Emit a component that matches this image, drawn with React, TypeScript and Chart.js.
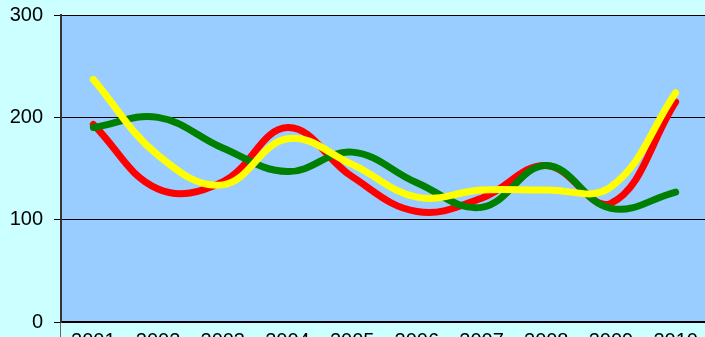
import React, { useEffect, useRef } from "react";
import { Chart, registerables } from "chart.js";

Chart.register(...registerables);

const years = ["2001", "2002", "2003", "2004", "2005", "2006", "2007", "2008", "2009", "2010"];
const redSeries = [193, 130, 137, 190, 142, 108, 121, 153, 116, 215];
const greenSeries = [190, 200, 170, 147, 166, 136, 112, 153, 111, 127];
const yellowSeries = [237, 163, 134, 179, 154, 122, 129, 129, 132, 224];
const yTicks = [0, 100, 200, 300];

const plotBackground = {
  id: "plotBackground",
  beforeDraw(chart: any) {
    const { ctx, chartArea } = chart;
    ctx.save();
    ctx.fillStyle = "#99ccff";
    ctx.fillRect(chartArea.left, chartArea.top, chartArea.right - chartArea.left, chartArea.bottom - chartArea.top);
    ctx.restore();
  },
};

export default function App() {
  const ref = useRef<HTMLCanvasElement>(null);

  useEffect(() => {
    document.body.style.margin = "0";
    document.body.style.overflow = "hidden";
    document.body.style.background = "#ccffff";
    const font = { family: "'Liberation Sans', Arial, sans-serif", size: 20 };
    const line = (data: number[], color: string, order: number) => ({
      data,
      borderColor: color,
      backgroundColor: color,
      borderWidth: 7,
      borderCapStyle: "round" as const,
      borderJoinStyle: "round" as const,
      pointRadius: 0,
      tension: 0.4,
      fill: false,
      order,
    });
    const chart = new Chart(ref.current!, {
      type: "line",
      data: {
        labels: years,
        datasets: [
          line(redSeries, "#ff0000", 3),
          line(greenSeries, "#008000", 2),
          line(yellowSeries, "#ffff00", 1),
        ],
      },
      options: {
        animation: false,
        responsive: false,
        devicePixelRatio: 1,
        layout: { padding: { top: 15, right: 12, left: 0, bottom: 0 } },
        plugins: { legend: { display: false }, tooltip: { enabled: false } },
        scales: {
          x: {
            offset: true,
            grid: {
              display: true,
              drawOnChartArea: false,
              offset: true,
              tickLength: 16,
              color: (c: any) => (c.index === 0 ? "#666" : "rgba(0,0,0,0)"),
            },
            border: { color: "#000", width: 2 },
            ticks: { color: "#000", font, padding: -9, maxRotation: 0, autoSkip: false },
            afterFit: (s: any) => { s.height = 34; s.paddingLeft = 0; s.paddingRight = 0; },
          },
          y: {
            min: 0,
            max: 300,
            afterBuildTicks: (s: any) => { s.ticks = yTicks.map((v) => ({ value: v })); },
            grid: { color: "#000", lineWidth: 1, tickLength: 7 },
            border: { color: "#333", width: 2 },
            ticks: { color: "#000", font, padding: 11 },
            afterFit: (s: any) => { s.width = 61; s.paddingTop = 0; s.paddingBottom = 0; },
          },
        },
      },
      plugins: [plotBackground],
    });
    return () => chart.destroy();
  }, []);

  return (
    <div style={{ position: "fixed", left: 0, top: 0, width: 705, height: 337, overflow: "hidden", background: "#ccffff" }}>
      <canvas ref={ref} width={720} height={356} style={{ display: "block" }} />
    </div>
  );
}
